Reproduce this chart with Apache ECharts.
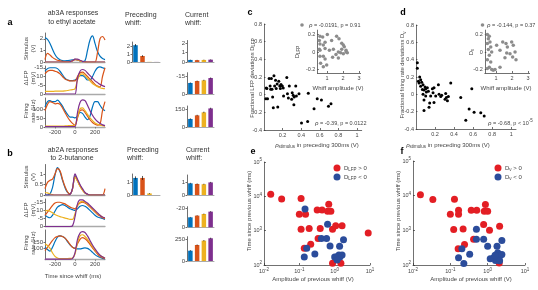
<!DOCTYPE html>
<html><head><meta charset="utf-8">
<script src="https://cdn.jsdelivr.net/npm/echarts@6/dist/echarts.min.js"></script>
<style>html,body{margin:0;padding:0;background:#fff}#c{width:538px;height:290px}</style>
</head><body><div id="c"></div>
<script>
const F = 'Liberation Sans, Arial, sans-serif';
const COL = ['#0072BD','#D95319','#EDB120','#7E2F8E'];
const T = [-300,-275,-250,-225,-200,-175,-150,-125,-100,-75,-50,-25,0,25,50,75,100,125,150,175,200,225,250,275,300];

// ---- panel a traces ----
const aStimBlue   = [2.1,1.95,1.6,1.1,0.65,0.35,0.2,0.12,0.1,0.12,0.15,0.18,0.22,0.18,0.1,0.04,0.1,1.0,1.9,2.25,1.6,0.9,0.5,0.3,0.2];
const aStimOrange = [0.2,0.75,0.6,0.4,0.25,0.15,0.1,0.06,0.03,0.02,0.03,0.1,0.2,0.18,0.1,0.04,0.01,0,0,0,0,0.8,2.0,2.2,1.9];
const aStimYellow = [0,0,0,0,0,0,0,0,0,0,0.02,0.1,0.22,0.2,0.1,0.04,0.01,0,0,0,0,0,0,0,0];
const aStimPurple = [0,0,0,0,0,0,0,0,0,0,0.02,0.1,0.25,0.25,0.15,0.06,0.02,0,0,0,0,0,0,0,0];
const aLfpBlue    = [-13,-14.5,-15,-15,-15,-14.5,-13,-11,-9,-8,-7.7,-7.7,-8,-9,-10.5,-10.5,-9.5,-8,-8,-10,-13,-15,-15.5,-15,-14.5];
const aLfpOrange  = [-11.5,-13,-13.5,-13.5,-13,-12.5,-11.5,-10,-8.5,-8,-7.5,-7.5,-7.5,-10,-12,-12.5,-11.5,-10,-8.5,-7,-5.5,-4.5,-4,-10,-15];
const aLfpYellow  = [-1.5,-1.5,-1.5,-1.5,-1.6,-1.6,-1.7,-1.7,-1.8,-2,-2.3,-2.5,-3,-8,-11,-11.5,-10.5,-9,-7.5,-6,-5,-4.2,-3.6,-3.2,-3];
const aLfpPurple  = [0,0,0,0,0,0,0,0,0,0,0,0,0,-9,-13,-14,-13.5,-12,-10.5,-9,-7.5,-6.5,-5.5,-4.8,-4.2];
const aFrBlue     = [110,140,145,140,140,148,135,115,90,70,55,55,50,60,80,75,55,40,60,110,140,140,120,100,90];
const aFrOrange   = [90,125,140,135,128,130,125,105,80,55,35,20,10,50,90,95,80,60,40,25,15,10,15,90,140];
const aFrYellow   = [5,5,5,5,5,5,5,5,6,7,8,8,10,55,100,105,90,70,50,35,22,15,10,8,5];
const aFrPurple   = [2,2,2,2,2,2,2,2,2,2,2,2,2,80,135,150,145,120,90,65,45,30,20,12,8];

// ---- panel b traces ----
const bStimBlue   = [0,0,0.05,0.35,0.95,1.3,1.1,0.7,0.35,0.12,0.05,0.3,0.92,0.7,0.45,0.25,0.1,0.03,0,0,0,0,0,0,0];
const bStimOrange = [0.3,0.6,0.7,0.75,1.0,1.25,1.15,0.75,0.4,0.15,0.05,0.3,0.88,0.68,0.44,0.24,0.1,0.03,0,0,0,0,0,0,0.3];
const bStimYellow = [0.12,0.1,0.05,0.02,0,0,0,0,0,0,0.02,0.28,0.85,0.66,0.42,0.23,0.09,0.03,0,0,0,0,0,0,0];
const bStimPurple = [0,0,0,0,0,0,0,0,0,0,0.02,0.3,1.0,0.75,0.5,0.3,0.12,0.04,0,0,0,0,0,0,0];
const bLfpBlue    = [-7,-6,-5.5,-7,-9.5,-12,-13,-13.5,-13,-12,-11,-10.5,-10,-11,-12.5,-13,-12.5,-11.5,-10,-8.5,-7,-6,-5.5,-5,-4.5];
const bLfpOrange  = [-7,-9,-11,-13,-14.5,-15,-15,-14.5,-14,-13,-12,-11.5,-11,-13,-14.5,-15,-14.5,-13.5,-12,-10.5,-9,-7.5,-6.5,-5.5,-5];
const bLfpYellow  = [-9.5,-10,-9.5,-8.5,-7.5,-6.8,-6.2,-5.8,-5.3,-5,-4.5,-4.5,-8,-13,-15,-15.5,-15,-14,-12.5,-11,-9.5,-8,-7,-6,-5.5];
const bLfpPurple  = [0,0,0,0,0,0,0,0,0,0,0,-0.5,-6,-14,-16.5,-16.5,-15.5,-14.5,-13,-11.5,-10,-8.5,-7,-6,-5.5];
const bFrBlue     = [110,90,75,110,160,200,210,205,190,160,130,110,100,95,95,100,105,100,85,65,45,30,20,12,8];
const bFrOrange   = [80,110,140,170,195,205,210,205,190,165,135,110,100,140,180,195,185,165,135,105,75,50,30,18,10];
const bFrYellow   = [140,125,100,60,30,15,10,10,10,10,12,15,50,150,210,220,205,180,150,115,85,60,40,25,15];
const bFrPurple   = [5,5,5,5,5,5,5,5,5,5,5,10,60,180,235,248,240,210,170,130,95,65,40,25,12];

// ---- bar values (blue, orange, yellow, purple) and errors ----
const precAStim = [2.1,0.75,0.02,0.01],   precAStimErr = [0.15,0.1,0,0];
const curAStim  = [0.22,0.2,0.22,0.25],   curAStimErr  = [0.03,0.03,0.03,0.03];
const curALfp   = [-9.2,-10.8,-11.4,-13.3], curALfpErr = [0.4,0.4,0.5,0.5];
const curAFr    = [67,97,122,155],        curAFrErr    = [5,5,6,6];
const precBStim = [1.3,1.3,0.12,0.0],     precBStimErr = [0.12,0.15,0.03,0];
const curBStim  = [0.9,0.85,0.83,0.97],   curBStimErr  = [0.04,0.04,0.04,0.04];
const curBLfp   = [-10.5,-12.3,-14,-16.5], curBLfpErr  = [0.4,0.4,0.5,0.5];
const curBFr    = [117,182,231,258],      curBFrErr    = [6,6,7,7];

// ---- panel c ----
const cMain = [[0.031,0.069],[0.038,-0.046],[0.055,0.183],[0.066,0.099],[0.072,0.061],[0.079,0.183],[0.086,0.061],[0.093,-0.027],[0.107,0.213],[0.114,0.099],[0.124,0.164],[0.131,0.069],[0.141,0.122],[0.10,-0.149],[0.148,-0.141],[0.159,0.152],[0.169,0.099],[0.176,0.069],[0.183,0.114],[0.197,0.099],[0.207,0.076],[0.21,-0.015],[0.245,0.194],[0.252,0.011],[0.262,-0.038],[0.272,0.099],[0.297,-0.053],[0.303,0.023],[0.314,-0.008],[0.324,-0.027],[0.321,-0.114],[0.341,0.099],[0.348,-0.015],[0.376,0.011],[0.476,0.015],[0.538,-0.16],[0.572,-0.046],[0.617,-0.061],[0.693,-0.13],[0.72,-0.103],[0.403,-0.32],[0.469,-0.305],[0.02,-0.046],[0.024,0.076]];
const cInset = [[0.56,0.18],[0.73,0.17],[0.52,0.13],[1.02,0.2],[1.29,0.13],[0.56,0.09],[0.77,0.08],[0.88,0.11],[0.52,0.03],[0.56,0.02],[0.88,0.04],[1.15,0.02],[1.40,0.03],[1.60,0.18],[1.75,0.15],[1.92,0.1],[2.02,0.08],[2.08,0.06],[2.19,0.02],[2.27,-0.01],[1.92,0.03],[1.71,0.0],[1.56,-0.03],[1.35,-0.06],[1.71,-0.07],[0.77,-0.05],[0.56,-0.05],[0.88,-0.08],[0.6,-0.13],[0.98,-0.15],[0.77,-0.17],[2.19,0.0],[1.85,-0.01],[2.02,-0.02]];
// ---- panel d ----
const dMain = [[0.014,0.363],[0.014,0.30],[0.039,0.199],[0.049,0.169],[0.032,0.131],[0.06,0.139],[0.074,0.112],[0.067,0.056],[0.084,0.049],[0.095,0.086],[0.102,0.064],[0.109,0.026],[0.119,0.075],[0.13,0.037],[0.074,0],[0.084,-0.064],[0.102,-0.019],[0.154,-0.019],[0.144,-0.101],[0.172,0.064],[0.179,0.019],[0.189,0.075],[0.207,-0.019],[0.235,0.112],[0.242,0],[0.26,-0.026],[0.27,-0.011],[0.305,-0.056],[0.312,0.011],[0.319,-0.037],[0.34,-0.026],[0.33,-0.075],[0.365,0.131],[0.47,-0.037],[0.586,0.064],[0.558,-0.169],[0.61,-0.206],[0.68,-0.213],[0.716,-0.251],[0.523,-0.3],[0.084,-0.187],[0.137,-0.15],[0.189,-0.094],[0.049,0.094],[0.025,0.15]];
const dInset = [[0.46,0.2],[0.58,0.18],[0.52,0.15],[0.625,0.115],[0.46,0.096],[0.67,0.058],[0.52,0.027],[0.73,0.0],[0.58,-0.038],[0.46,-0.088],[0.67,-0.115],[0.58,-0.173],[0.46,-0.19],[0.73,-0.2],[0.83,-0.21],[0.94,-0.2],[1.04,0.077],[1.25,0.019],[1.42,0.115],[1.625,0.096],[1.71,0.058],[1.98,0.115],[2.08,0.077],[2.19,0.0],[1.875,-0.019],[1.67,-0.012],[1.56,-0.065],[2.04,-0.058],[2.25,-0.088],[1.25,-0.173]];
// ---- panel e (amplitude V, time ms) ----
const ePos = [[0.0155,11500],[0.0316,8300],[0.112,8700],[0.1,3000],[0.15,3000],[0.32,4000],[0.44,4000],[0.68,5900],[0.63,3700],[0.78,3700],[0.112,1100],[0.19,1150],[0.39,1150],[0.87,1100],[1.07,1380],[1.62,1380],[0.34,590],[0.21,400],[0.138,310],[0.87,112],[1.5,112],[8.9,850]];
const eNeg = [[0.145,4270],[0.63,1550],[0.42,590],[0.59,590],[0.162,310],[0.138,170],[0.275,210],[0.74,360],[1.38,350],[1.78,540],[1.32,195],[1.12,170],[1.41,170],[1.62,195],[1.0,170],[1.17,141]];
// ---- panel f ----
const fPos = [[0.0158,10700],[0.034,7800],[0.129,7900],[0.1,2900],[0.166,3800],[0.166,2900],[0.363,3800],[0.51,3800],[0.87,5600],[0.81,3550],[1.0,3550],[0.123,1050],[0.22,1100],[0.78,1480],[1.12,1000],[2.09,1320],[0.42,550],[0.24,390],[0.162,295],[2.04,115]];
const fNeg = [[0.5,1070],[0.5,550],[0.78,550],[0.204,295],[0.166,162],[0.33,204],[0.23,110],[1.0,347],[1.78,347],[1.86,224],[2.4,513],[1.45,162],[1.62,135],[2.0,162],[2.19,190],[1.78,178],[1.17,151],[2.4,200],[1.58,190],[2.09,132]];

// ================= build =================
const grid=[], xAxis=[], yAxis=[], series=[];
function addGrid(pos, xa, ya){
  const i = grid.length;
  grid.push({left:pos[0], top:pos[1], width:pos[2], height:pos[3], containLabel:false});
  xAxis.push(Object.assign({gridIndex:i}, xa));
  yAxis.push(Object.assign({gridIndex:i}, ya));
  return i;
}
const LBL = {fontSize:6, color:'#444', fontFamily:F, margin:2};
function yVal(min,max,ticks,opt){
  opt = opt||{};
  const a = {type:'value', min:min, max:max, inverse:!!opt.inverse, splitLine:{show:false},
    axisLine:{show:true, onZero:false, lineStyle:{color:'#333', width:0.7}},
    axisTick:{show:true, inside:!!opt.inside, length:1.5, lineStyle:{color:'#333',width:0.7}},
    axisLabel:Object.assign({}, LBL, opt.label||{})};
  if (ticks) { a.axisTick.customValues = ticks; a.axisLabel.customValues = ticks; }
  if (opt.interval) a.interval = opt.interval;
  return a;
}
function xTime(show){
  return {type:'value', min:-300, max:300, splitLine:{show:false},
    axisLine:{show:true,onZero:false,lineStyle:{color:'#aaa',width:1.3}},
    axisTick:{show:show, length:1.5, customValues:[-200,0,200], lineStyle:{color:'#666',width:0.7}},
    axisLabel:Object.assign({}, LBL, {show:show, customValues:[-200,0,200]})};
}
const xCat = {type:'category', data:['1','2','3','4'], axisLine:{show:true,onZero:false,lineStyle:{color:'#aaa',width:1}}, axisTick:{show:false}, axisLabel:{show:false}};

function lines(gi, arrs){
  arrs.forEach((arr,k)=>{
    series.push({type:'line', xAxisIndex:gi, yAxisIndex:gi, data:T.map((t,j)=>[t,arr[j]]),
      showSymbol:false, smooth:0.35, lineStyle:{width:1.2, color:COL[k]}, color:COL[k], silent:true, z:2+k});
  });
}
function errItem(params, api){
  const p1 = api.coord([api.value(0), api.value(1)]);
  const p2 = api.coord([api.value(0), api.value(2)]);
  return {type:'line', shape:{x1:p1[0],y1:p1[1],x2:p2[0],y2:p2[1]}, style:{stroke:'#111', lineWidth:0.7}};
}
function bars(gi, vals, errs){
  series.push({type:'bar', xAxisIndex:gi, yAxisIndex:gi, barWidth:4.5, silent:true,
    data: vals.map((v,k)=>({value:v, itemStyle:{color:COL[k]}}))});
  series.push({type:'custom', xAxisIndex:gi, yAxisIndex:gi, renderItem:errItem, silent:true, z:5,
    encode:{x:0, y:[1,2]}, data: vals.map((v,k)=>[k, v-errs[k], v+errs[k]])});
}

let g;
g = addGrid([45,33,60,29], xTime(false), yVal(0,2.5,[0,1,2]));   lines(g,[aStimBlue,aStimOrange,aStimYellow,aStimPurple]);
g = addGrid([45,66,60,28], xTime(false), yVal(-16,0,[-15,-10,-5,0],{inverse:true})); lines(g,[aLfpBlue,aLfpOrange,aLfpYellow,aLfpPurple]);
g = addGrid([45,98,60,29], xTime(true), yVal(0,160,[0,50,100])); lines(g,[aFrBlue,aFrOrange,aFrYellow,aFrPurple]);
g = addGrid([45,164.5,60,30.5], xTime(false), yVal(0,1.45,[0,0.5,1])); lines(g,[bStimBlue,bStimOrange,bStimYellow,bStimPurple]);
g = addGrid([45,199,60,27.7], xTime(false), yVal(-17,0,[-15,-10,-5,0],{inverse:true})); lines(g,[bLfpBlue,bLfpOrange,bLfpYellow,bLfpPurple]);
g = addGrid([45,230,60,29.7], xTime(true), yVal(0,262,[50,100,150,200])); lines(g,[bFrBlue,bFrOrange,bFrYellow,bFrPurple]);

g = addGrid([132,42,28,20], xCat, yVal(0,2.5,[0,1,2])); bars(g, precAStim, precAStimErr);
g = addGrid([187,40.5,27,21.5], xCat, yVal(0,2.3,[0,1,2])); bars(g, curAStim, curAStimErr);
g = addGrid([187,72.7,27,21.3], xCat, yVal(-17.75,0,[-15,0],{inverse:true})); bars(g, curALfp, curALfpErr);
g = addGrid([187,106,27,21], xCat, yVal(0,175,[0,150])); bars(g, curAFr, curAFrErr);
g = addGrid([132,174,28,21], xCat, yVal(0,1.6,[0,1])); bars(g, precBStim, precBStimErr);
g = addGrid([187,175,27,20], xCat, yVal(0,1.54,[0,1])); bars(g, curBStim, curBStimErr);
g = addGrid([187,206.7,27,20.6], xCat, yVal(-21.7,0,[-20,0],{inverse:true})); bars(g, curBLfp, curBLfpErr);
g = addGrid([187,236.7,27,24.3], xCat, yVal(0,276,[0,250])); bars(g, curBFr, curBFrErr);

const SL = {fontSize:5.5};
function xValAx(min,max,ticks){
  const a = {type:'value', min:min, max:max, splitLine:{show:false},
    axisLine:{show:true,onZero:false,lineStyle:{color:'#333',width:0.7}},
    axisTick:{show:true,inside:true,length:2,lineStyle:{color:'#333',width:0.7}},
    axisLabel:Object.assign({}, LBL, SL)};
  if (ticks){ a.axisTick.customValues=ticks; a.axisLabel.customValues=ticks; }
  return a;
}
function scat(gi, data, color, size, z){
  series.push({type:'scatter', xAxisIndex:gi, yAxisIndex:gi, data:data, symbolSize:size, silent:true,
    itemStyle:{color:color, opacity:1}, z:z||2});
}
g = addGrid([264,24,97.7,106], xValAx(0,1.05,[0.2,0.4,0.6,0.8,1]), yVal(-0.4,0.8,null,{interval:0.2,inside:true,label:SL}));
scat(g, cMain, '#000', 3);
g = addGrid([317.4,30.1,43.2,42.9], xValAx(0.4,3.1,[1,2,3]), yVal(-0.24,0.25,[-0.2,0,0.2],{inside:true,label:SL}));
scat(g, cInset, '#8c8c8c', 3.5);
g = addGrid([416,25,100,104], xValAx(0,1.05,[0.2,0.4,0.6,0.8,1]), yVal(-0.4,0.8,null,{interval:0.2,inside:true,label:SL}));
scat(g, dMain, '#000', 3);
g = addGrid([484.8,30.1,44.8,42.9], xValAx(0.3,3.1,[1,2,3]), yVal(-0.24,0.25,[-0.2,0,0.2],{inside:true,label:SL}));
scat(g, dInset, '#8c8c8c', 3.5);

const supRich = {p:{fontSize:4.5, color:'#444', fontFamily:F, padding:[0,0,4,0]}};
function logAx(min,max){
  return {type:'log', logBase:10, min:min, max:max, splitLine:{show:false}, minorTick:{show:false},
    axisLine:{show:true,onZero:false,lineStyle:{color:'#333',width:0.7}},
    axisTick:{show:true,inside:true,length:2,lineStyle:{color:'#333',width:0.7}},
    axisLabel:Object.assign({}, LBL, {fontSize:5.5, formatter:v=>'10{p|'+Math.round(Math.log10(v))+'}', rich:supRich})};
}
const RED='#E31E24', BLUE='#2B4C9B';
g = addGrid([264,162,106,103], logAx(0.01,10), logAx(100,100000));
scat(g, ePos, RED, 7, 2); scat(g, eNeg, BLUE, 7, 3);
g = addGrid([413,161,112,104], logAx(0.01,10), logAx(100,100000));
scat(g, fPos, RED, 7, 2); scat(g, fNeg, BLUE, 7, 3);

const RICH = {s:{fontSize:4.5, fontFamily:F, padding:[4,0,0,0]}, p:{fontSize:4.5, fontFamily:F, padding:[0,0,4,0]}, i:{fontSize:6, fontStyle:'italic', fontFamily:F}};
function txt(x,y,text,o){
  o=o||{};
  return {type:'text', x:x, y:y, rotation:o.rot||0, silent:true, z:100,
    style:{text:text, fontSize:o.fs||6, fontFamily:F, fontWeight:o.fw||'normal', fill:o.c||'#444',
      align:o.al||'center', verticalAlign:'middle', rich:RICH}};
}
const R90 = Math.PI/2;
const G = [
  txt(10,23,'a',{fs:9,fw:'bold',c:'#000'}), txt(10,154,'b',{fs:9,fw:'bold',c:'#000'}),
  txt(250,13,'c',{fs:9,fw:'bold',c:'#000'}), txt(403,13,'d',{fs:9,fw:'bold',c:'#000'}),
  txt(253,152,'e',{fs:9,fw:'bold',c:'#000'}), txt(402,152,'f',{fs:9,fw:'bold',c:'#000'}),
  txt(73,13,'ab3A responses',{fs:7,c:'#333'}), txt(72,22,'to ethyl acetate',{fs:7,c:'#333'}),
  txt(73,150,'ab2A responses',{fs:7,c:'#333'}), txt(72,158.5,'to 2-butanone',{fs:7,c:'#333'}),
  txt(125,15,'Preceding',{fs:7,c:'#333',al:'left'}), txt(125,23.5,'whiff:',{fs:7,c:'#333',al:'left'}),
  txt(185,15,'Current',{fs:7,c:'#333',al:'left'}), txt(185,23.5,'whiff:',{fs:7,c:'#333',al:'left'}),
  txt(127,150,'Preceding',{fs:7,c:'#333',al:'left'}), txt(127,158.5,'whiff:',{fs:7,c:'#333',al:'left'}),
  txt(186,150,'Current',{fs:7,c:'#333',al:'left'}), txt(186,158.5,'whiff:',{fs:7,c:'#333',al:'left'}),
  txt(26,48.5,'Stimulus',{rot:R90}), txt(33,48.5,'(V)',{rot:R90}),
  txt(26,78,'ΔLFP',{rot:R90}), txt(33,78,'(mV)',{rot:R90}),
  txt(26,111,'Firing',{rot:R90}), txt(33,111,'rate (Hz)',{rot:R90}),
  txt(26,177,'Stimulus',{rot:R90}), txt(33,177,'(V)',{rot:R90}),
  txt(26,210,'ΔLFP',{rot:R90}), txt(33,210,'(mV)',{rot:R90}),
  txt(26,243,'Firing',{rot:R90}), txt(33,243,'rate (Hz)',{rot:R90}),
  txt(73,276,'Time since whiff (ms)'),
  txt(252,78,'Fractional LFP deviations D{s|LFP}',{rot:R90,fs:5.8}),
  txt(402.5,75,'Fractional firing rate deviations D{s|ν}',{rot:R90,fs:5.8}),
  txt(297,52,'D{s|LFP}',{rot:R90}), txt(471,52,'D{s|ν}',{rot:R90}),
  txt(338,88,'Whiff amplitude (V)'), txt(506,88,'Whiff amplitude (V)'),
  {type:'circle', shape:{cx:302,cy:25,r:1.8}, style:{fill:'#8c8c8c'}, silent:true},
  txt(309,25,'{i|ρ} = -0.0191, p = 0.91',{al:'left',fs:5.5}),
  {type:'circle', shape:{cx:482.5,cy:25,r:1.8}, style:{fill:'#8c8c8c'}, silent:true},
  txt(487,25,'{i|ρ} = -0.144, p = 0.37',{al:'left',fs:5.5}),
  txt(315,123,'{i|ρ} = -0.39, p = 0.0122',{al:'left',fs:5.5}),
  txt(488,123,'{i|ρ} = -0.68, p < 10{p|-5}',{al:'left',fs:5.5}),
  txt(317,145,'{i|ρ}{s|stimulus} in preceding 300ms (V)'),
  txt(448,145,'{i|ρ}{s|stimulus} in preceding 300ms (V)'),
  txt(249,211,'Time since previous whiff (ms)',{rot:R90}),
  txt(398,211,'Time since previous whiff (ms)',{rot:R90}),
  txt(313,279,'Amplitude of previous whiff (V)'),
  txt(471,279,'Amplitude of previous whiff (V)'),
  {type:'circle', shape:{cx:337,cy:168,r:3.5}, style:{fill:RED}, silent:true},
  {type:'circle', shape:{cx:337,cy:177,r:3.5}, style:{fill:BLUE}, silent:true},
  txt(344,168,'D{s|LFP} > 0',{al:'left'}), txt(344,177,'D{s|LFP} < 0',{al:'left'}),
  {type:'circle', shape:{cx:498,cy:168,r:3.5}, style:{fill:RED}, silent:true},
  {type:'circle', shape:{cx:498,cy:177,r:3.5}, style:{fill:BLUE}, silent:true},
  txt(505,168,'D{s|ν} > 0',{al:'left'}), txt(505,177,'D{s|ν} < 0',{al:'left'})
];

const chart = echarts.init(document.getElementById('c'), null, {renderer:'canvas', width:538, height:290});
chart.setOption({
  animation:false, backgroundColor:'#fff', textStyle:{fontFamily:F},
  grid:grid, xAxis:xAxis, yAxis:yAxis, series:series, graphic:{elements:G}
});
</script></body></html>
